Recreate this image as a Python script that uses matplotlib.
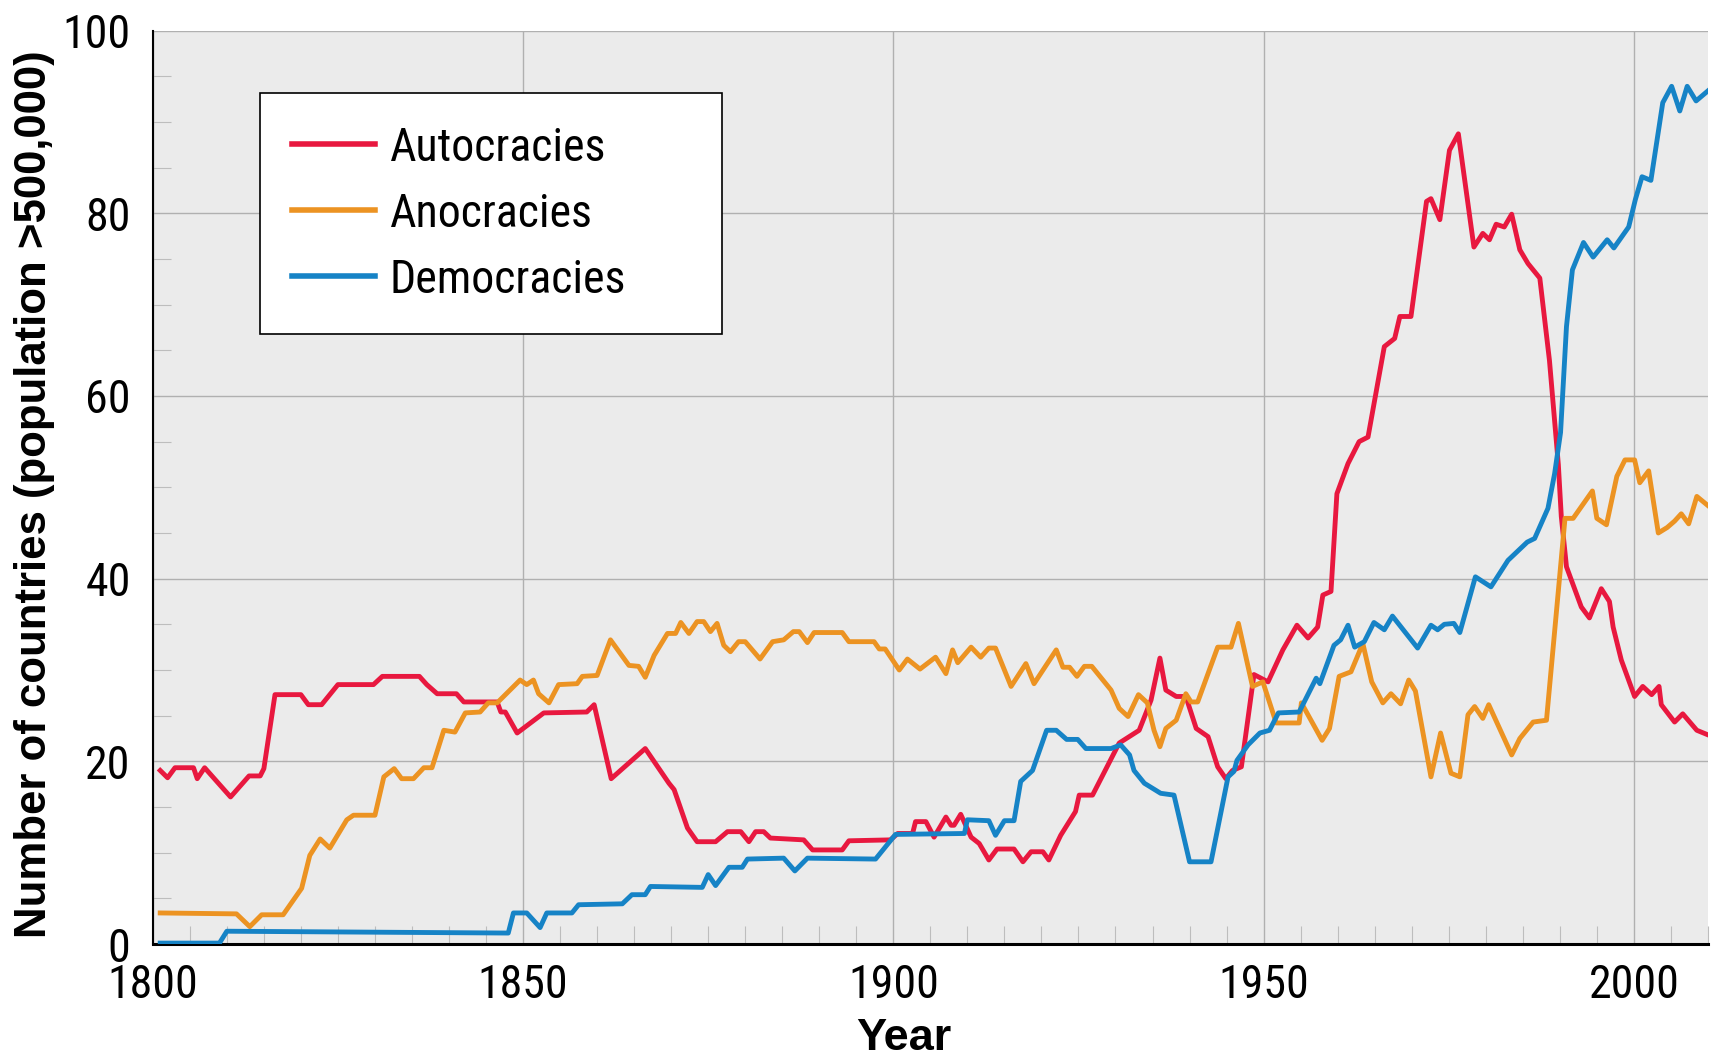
import matplotlib
matplotlib.use("Agg")
import matplotlib.pyplot as plt
from matplotlib.ticker import MultipleLocator

plt.rcParams['font.family'] = ['Roboto Condensed', 'IBM Plex Sans Condensed', 'DejaVu Sans']
bold_family = ['Liberation Sans', 'Arimo', 'DejaVu Sans']

# values (year, number of countries)
auto_years = [1801, 1802, 1803, 1805.5, 1806, 1807, 1810.5, 1813, 1814.5, 1815, 1816.5, 1820, 1821, 1822.8,
              1825, 1829.8, 1831, 1836, 1837, 1838.4, 1841, 1842, 1846.5, 1847, 1847.6, 1849.2, 1852.8, 1858.6,
              1859.6, 1861.9, 1866.5, 1869.7, 1870.4, 1872.2, 1873.5, 1876, 1877.6, 1879.4, 1880.5, 1881.4,
              1882.5, 1883.4, 1887.9, 1889.1, 1893.1, 1894, 1899.6, 1900.6, 1902.6, 1903, 1904.4, 1905.5,
              1907.1, 1907.8, 1908.2, 1909.1, 1910.5, 1911.6, 1912.9, 1914, 1916.3, 1917.5, 1918.6, 1920.2,
              1921, 1922.6, 1924.6, 1925.1, 1926.9, 1930.5, 1933.2, 1934.8, 1936, 1936.8, 1938.2, 1939.5,
              1940.9, 1942.5, 1943.8, 1944.9, 1945.8, 1947, 1948.7, 1950.6, 1952.6, 1954.5, 1956, 1957.3,
              1958, 1959.1, 1959.9, 1961.4, 1962.9, 1964.1, 1966.3, 1967.7, 1968.4, 1969.9, 1972, 1972.6,
              1973.8, 1975.1, 1976.3, 1978.4, 1979.6, 1980.5, 1981.4, 1982.5, 1983.5, 1984.6, 1985.7, 1987.3,
              1988.6, 1989.8, 1990.2, 1990.9, 1992.9, 1994, 1995.6, 1996.7, 1997.2, 1998.3, 2000.1, 2001.2,
              2002.4, 2003.4, 2003.7, 2005.5, 2006.6, 2008.5, 2010]
auto_vals = [19.0, 18.2, 19.3, 19.3, 18.1, 19.3, 16.1, 18.4, 18.4, 19.2, 27.3, 27.3, 26.2, 26.2,
             28.4, 28.4, 29.3, 29.3, 28.4, 27.4, 27.4, 26.5, 26.5, 25.4, 25.4, 23.1, 25.3, 25.4,
             26.2, 18.1, 21.4, 17.6, 16.9, 12.7, 11.2, 11.2, 12.3, 12.3, 11.2, 12.3,
             12.3, 11.6, 11.4, 10.3, 10.3, 11.3, 11.4, 12.1, 12.1, 13.4, 13.4, 11.7,
             13.9, 13.0, 13.0, 14.2, 11.7, 11.0, 9.2, 10.4, 10.4, 9.0, 10.1, 10.1,
             9.2, 11.9, 14.5, 16.3, 16.3, 22.0, 23.4, 26.7, 31.3, 27.8, 27.1, 27.1,
             23.6, 22.7, 19.4, 18.1, 19.0, 19.4, 29.5, 28.7, 32.2, 34.9, 33.5, 34.7,
             38.2, 38.6, 49.3, 52.6, 55.0, 55.5, 65.4, 66.3, 68.7, 68.7, 81.3, 81.6,
             79.3, 86.9, 88.7, 76.3, 77.8, 77.1, 78.8, 78.5, 79.9, 76.0, 74.5, 72.9,
             63.9, 52.5, 46.8, 41.3, 36.9, 35.7, 38.9, 37.5, 34.7, 31.1, 27.1, 28.2,
             27.3, 28.2, 26.2, 24.3, 25.2, 23.4, 22.9]

ano_years = [1801, 1811.3, 1813.1, 1814.7, 1817.6, 1820.1, 1821.2, 1822.6, 1823.9, 1826.2, 1827.1, 1830,
             1831.2, 1832.6, 1833.6, 1835.2, 1836.6, 1837.7, 1839.3, 1840.8, 1842.2, 1844.2, 1845.3, 1846.5,
             1849.6, 1850.5, 1851.4, 1852.1, 1853.5, 1854.8, 1857.3, 1858, 1860, 1861.8, 1864.3, 1865.6,
             1866.5, 1867.7, 1869.5, 1870.6, 1871.3, 1872.4, 1873.5, 1874.4, 1875.3, 1876.2, 1877.1, 1878,
             1879.1, 1880, 1882, 1883.7, 1885.2, 1886.5, 1887.3, 1888.4, 1889.3, 1893.1, 1894, 1897.4,
             1898.1, 1898.9, 1900.8, 1901.9, 1903.6, 1905.7, 1907.1, 1908, 1908.7, 1910.5, 1911.8, 1912.9,
             1913.8, 1915.9, 1917.9, 1919, 1922, 1922.9, 1923.8, 1924.8, 1925.8, 1926.8, 1929.4, 1930.5,
             1931.7, 1933.1, 1934.3, 1935.2, 1936, 1936.8, 1938.2, 1939.5, 1940.2, 1941.1, 1943.8, 1945.6,
             1946.6, 1948.5, 1949.9, 1951.7, 1954.8, 1955.1, 1957.9, 1958.9, 1960.2, 1961.8, 1963.4, 1964.6,
             1966.1, 1967.2, 1968.5, 1969.6, 1970.5, 1972.6, 1973.9, 1975.3, 1976.5, 1977.6, 1978.5, 1979.6,
             1980.4, 1983.5, 1984.6, 1986.4, 1988.2, 1990.7, 1991.8, 1994.4, 1995, 1996.3, 1997.7, 1998.8,
             2000.1, 2000.8, 2002, 2003.3, 2004.5, 2005.5, 2006.4, 2007.4, 2008.5, 2010]
ano_vals = [3.4, 3.3, 1.9, 3.2, 3.2, 6.1, 9.7, 11.5, 10.5, 13.6, 14.1, 14.1,
            18.3, 19.2, 18.1, 18.1, 19.3, 19.3, 23.4, 23.2, 25.3, 25.4, 26.4, 26.4,
            28.9, 28.4, 28.9, 27.4, 26.4, 28.4, 28.5, 29.3, 29.4, 33.3, 30.5, 30.4,
            29.2, 31.6, 34.0, 34.0, 35.2, 34.0, 35.3, 35.3, 34.2, 35.1, 32.7, 32.0,
            33.1, 33.1, 31.2, 33.1, 33.3, 34.2, 34.2, 33.0, 34.1, 34.1, 33.1, 33.1,
            32.3, 32.3, 30.0, 31.2, 30.1, 31.4, 29.6, 32.2, 30.8, 32.5, 31.4, 32.4,
            32.4, 28.2, 30.7, 28.5, 32.2, 30.3, 30.3, 29.3, 30.4, 30.4, 27.8, 25.8,
            24.9, 27.3, 26.4, 23.4, 21.6, 23.6, 24.5, 27.4, 26.5, 26.5, 32.5, 32.5,
            35.1, 28.2, 28.7, 24.2, 24.2, 26.4, 22.3, 23.6, 29.3, 29.8, 32.9, 28.7,
            26.4, 27.4, 26.3, 28.9, 27.7, 18.3, 23.1, 18.7, 18.3, 25.1, 26.0, 24.7,
            26.2, 20.7, 22.5, 24.3, 24.5, 46.6, 46.6, 49.6, 46.6, 45.9, 51.2, 53.0,
            53.0, 50.5, 51.8, 45.0, 45.6, 46.3, 47.1, 46.0, 49.0, 48.0]

demo_years = [1801, 1809, 1810, 1848, 1848.7, 1850.5, 1852.3, 1853.2, 1856.6, 1857.5, 1863.4, 1864.7,
              1866.5, 1867.2, 1874.2, 1875, 1876, 1877.8, 1879.6, 1880.3, 1885.2, 1886.7, 1888.4, 1897.6,
              1900.3, 1909.6, 1910, 1912.9, 1913.8, 1915, 1916.3, 1917.2, 1918.8, 1920.7, 1922, 1923.4,
              1924.9, 1926, 1929.4, 1930.7, 1931.9, 1932.5, 1933.9, 1936.1, 1937.9, 1940, 1942.9, 1945.2,
              1946, 1946.4, 1947.9, 1949.5, 1950.8, 1952, 1954.8, 1957.1, 1957.6, 1959.5, 1960.4, 1961.4,
              1962.3, 1963.6, 1964.9, 1966.3, 1967.4, 1970.8, 1972.6, 1973.5, 1974.4, 1975.7, 1976.5, 1978.6,
              1980.7, 1983, 1985.6, 1986.6, 1988.4, 1989.3, 1990.1, 1990.9, 1991.7, 1993.2, 1994.5, 1996.4,
              1997.3, 1999.3, 2000.2, 2001.1, 2002.3, 2003.9, 2005.1, 2006.2, 2007.2, 2008.4, 2010]
demo_vals = [0.1, 0.1, 1.4, 1.2, 3.4, 3.4, 1.8, 3.4, 3.4, 4.3, 4.4, 5.4,
             5.4, 6.3, 6.2, 7.6, 6.4, 8.4, 8.4, 9.3, 9.4, 8.0, 9.4, 9.3,
             12.0, 12.1, 13.6, 13.5, 11.9, 13.5, 13.5, 17.8, 19.0, 23.4, 23.4, 22.4,
             22.4, 21.4, 21.4, 21.8, 20.7, 19.0, 17.6, 16.5, 16.3, 9.0, 9.0, 18.3,
             18.9, 20.1, 21.8, 23.1, 23.4, 25.3, 25.4, 29.1, 28.5, 32.7, 33.3, 34.9,
             32.5, 33.1, 35.2, 34.4, 35.9, 32.4, 34.9, 34.4, 35.0, 35.1, 34.1, 40.2,
             39.1, 42.0, 44.0, 44.4, 47.7, 51.5, 56.0, 67.6, 73.8, 76.8, 75.2, 77.1,
             76.2, 78.5, 81.5, 84.0, 83.6, 92.1, 93.9, 91.2, 93.9, 92.3, 93.4]

fig = plt.figure(figsize=(17.11, 10.62), dpi=100)
ax = fig.add_axes([0.0893, 0.1111, 0.9089, 0.8601])
ax.set_facecolor('#ebebeb')

ax.plot(auto_years, auto_vals, color='#e8183f', lw=3.5, label='Autocracies', zorder=3)
ax.plot(ano_years, ano_vals, color='#ec9322', lw=3.5, label='Anocracies', zorder=3)
ax.plot(demo_years, demo_vals, color='#1683c6', lw=3.5, label='Democracies', zorder=3)

ax.set_xlim(1800, 2010)
ax.set_ylim(0, 100)
ax.xaxis.set_major_locator(MultipleLocator(50))
ax.xaxis.set_minor_locator(MultipleLocator(5))
ax.yaxis.set_major_locator(MultipleLocator(20))
ax.yaxis.set_minor_locator(MultipleLocator(5))
ax.grid(True, which='major', color='#b0b0b0', lw=1.0, zorder=0)
ax.set_axisbelow(True)

for s in ['top', 'right']:
    ax.spines[s].set_visible(False)
ax.spines['left'].set_linewidth(1.5)
ax.spines['bottom'].set_linewidth(2.2)

ax.tick_params(which='major', length=0, labelsize=33, pad=16)
ax.tick_params(axis='x', which='major', pad=14)
ax.tick_params(which='minor', direction='in', length=13, width=0.8, color='#bdbdbd')

ax.set_xlabel('Year', fontsize=32.5, fontweight='bold', family=bold_family)
ax.xaxis.set_label_coords(0.483, -0.081)
ax.set_ylabel('Number of countries (population >500,000)', fontsize=31.5, fontweight='bold',
              family=bold_family)
ax.yaxis.set_label_coords(-0.063, 0.4927)

leg = ax.legend(loc='upper left', bbox_to_anchor=(0.152, 0.686, 0.270, 0.226),
                bbox_transform=fig.transFigure, mode='expand', borderaxespad=0, fontsize=33,
                handlelength=1.8, handletextpad=0.33, labelspacing=0.48, borderpad=0.7,
                fancybox=False, framealpha=1, edgecolor='black')
leg.get_frame().set_linewidth(1.2)
for line in leg.get_lines():
    line.set_linewidth(4)

fig.savefig('out.png', dpi=100)
